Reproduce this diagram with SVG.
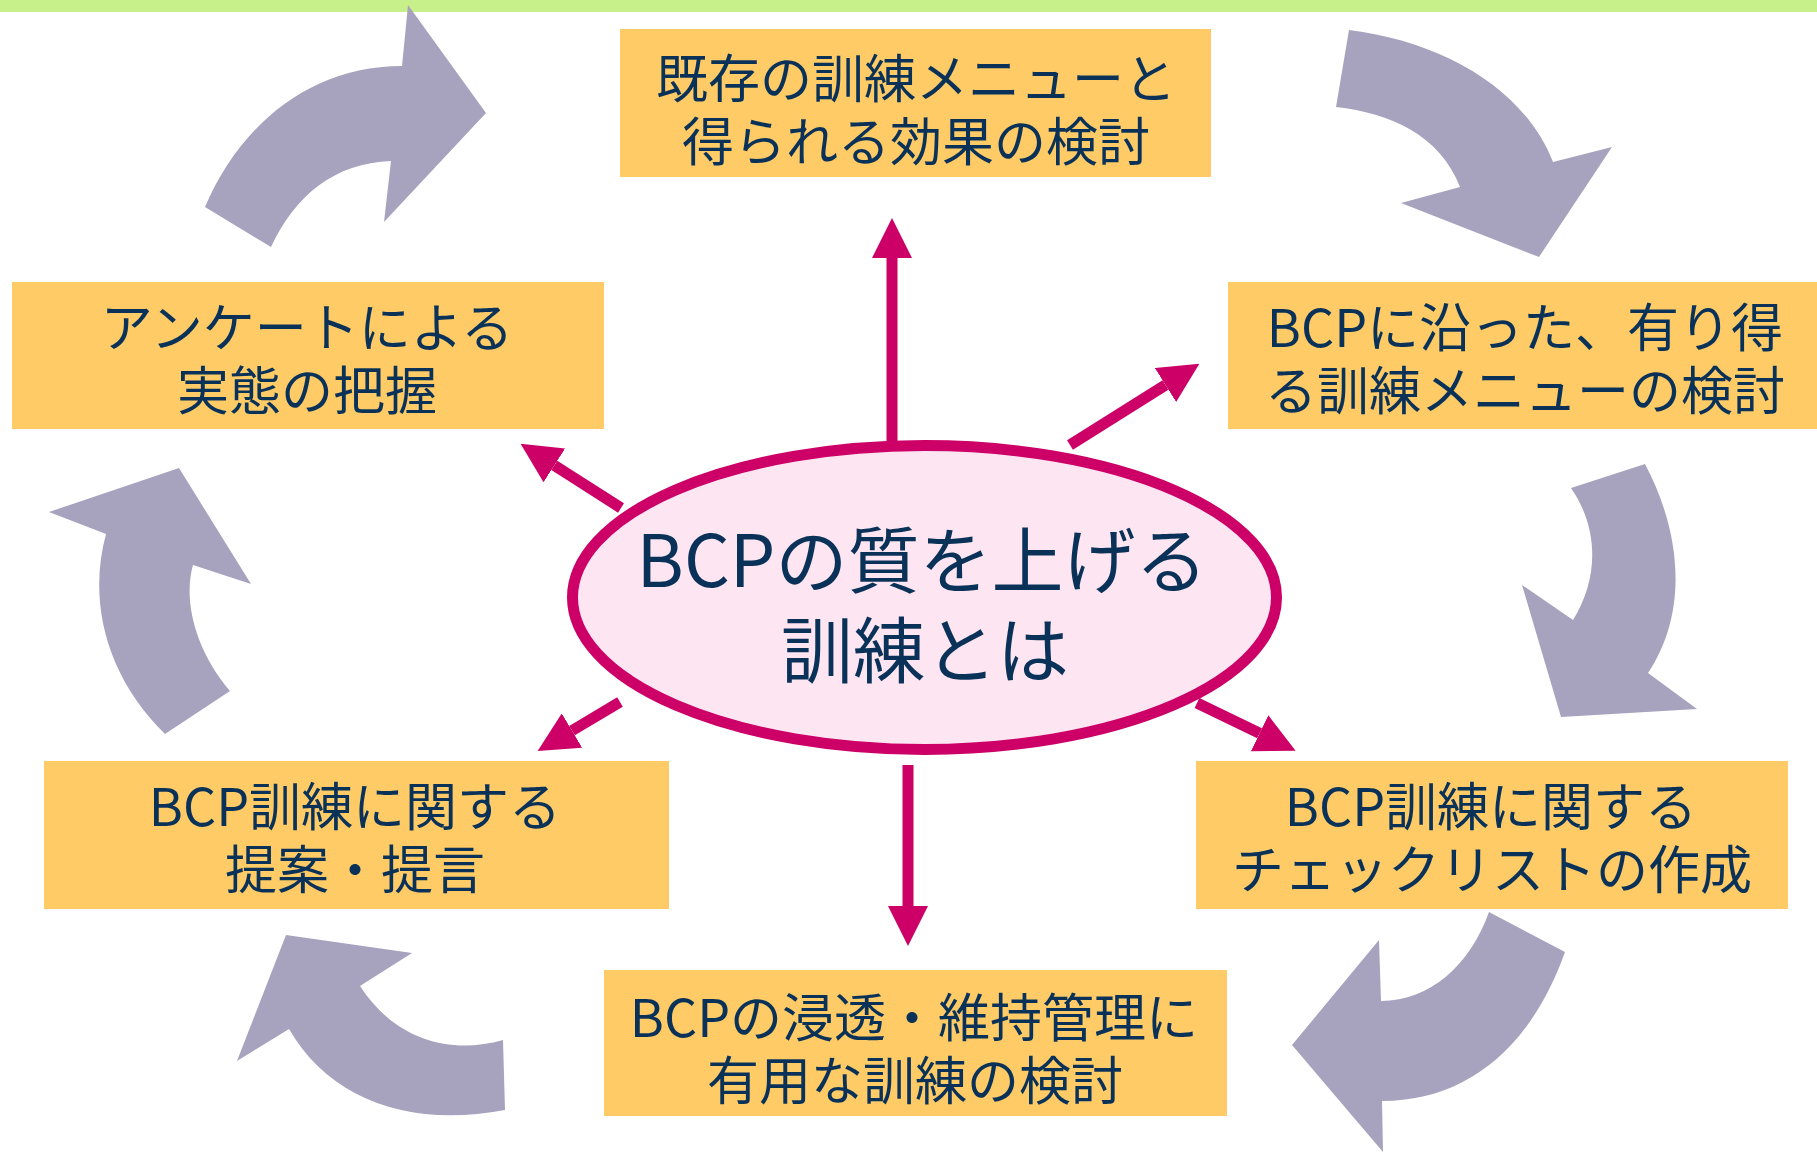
<svg xmlns="http://www.w3.org/2000/svg" width="1817" height="1157" viewBox="0 0 1817 1157">
<style>
.box{fill:#FECB66}
.cycle{fill:#A7A3BF}
.t{font-family:"Noto Sans CJK JP","Noto Sans",sans-serif;font-size:52px;fill:#0A3259;text-anchor:middle}
.tc{font-family:"Noto Sans CJK JP","Noto Sans",sans-serif;font-size:72px;fill:#0A3259;text-anchor:middle}
.con{stroke:#CC0066;stroke-width:11;fill:none;marker-end:url(#head)}
</style>
<defs>
<marker id="head" markerUnits="userSpaceOnUse" markerWidth="40" markerHeight="40" viewBox="0 0 36 36" refX="0" refY="18" orient="auto">
<path d="M0,0 L36,18 L0,36 Z" fill="#CC0066"/>
</marker>
</defs>
<rect x="0" y="0" width="1817" height="1157" fill="#FFFFFF"/>
<rect x="0" y="0" width="1817" height="12" fill="#C8F08A"/>

<g id="cycle-arrows">
<path class="cycle" d="M205,207 C240,125 310,66 402,66 L408,5 L486,113 L384,222 L391,161 C335,163 295,195 271,247 Z"/>
<path class="cycle" d="M1349,30 C1445,42 1525,90 1553,162 L1612,147 L1539,257 L1401,203 L1460,187 C1440,135 1390,113 1336,107 Z"/>
<path class="cycle" d="M1645,464 C1680,530 1690,610 1648,673 L1697,709 L1561,717 L1522,585 L1573,620 C1598,580 1600,530 1571,488 Z"/>
<path class="cycle" d="M1489,912 L1565,952 C1530,1050 1465,1101 1382,1101 L1383,1152 L1292,1045 L1379,940 L1381,1001 C1430,1001 1470,965 1489,912 Z"/>
<path class="cycle" d="M286,935 L412,953 L360,986 C395,1040 450,1055 503,1040 L505,1110 C410,1128 330,1100 289,1029 L237,1061 Z"/>
<path class="cycle" d="M106,534 L49,512 L179,468 L251,584 L193,565 C183,600 195,650 230,691 L165,734 C105,675 88,600 106,534 Z"/>
</g>

<g id="connectors">
<line class="con" x1="892" y1="442" x2="892" y2="258"/>
<line class="con" x1="1070" y1="445" x2="1165.5" y2="385"/>
<line class="con" x1="621" y1="508" x2="554.3" y2="465.4"/>
<line class="con" x1="620" y1="702" x2="572" y2="730.6"/>
<line class="con" x1="1197" y1="703" x2="1259.6" y2="733.3"/>
<line class="con" x1="908" y1="765" x2="908" y2="906"/>
</g>

<g id="center">
<ellipse cx="924.5" cy="597.5" rx="352" ry="152" fill="#FDE6F2" stroke="#CC0066" stroke-width="11"/>
<text class="tc"><tspan x="922" y="587">BCPの質を上げる</tspan><tspan x="925" y="677">訓練とは</tspan></text>
</g>

<g id="node-top">
<rect class="box" x="620" y="29" width="591" height="148"/>
<text class="t"><tspan x="916" y="98">既存の訓練メニューと</tspan><tspan x="916" y="161">得られる効果の検討</tspan></text>
</g>

<g id="node-right">
<rect class="box" x="1228" y="282" width="600" height="147"/>
<text class="t"><tspan x="1525" y="347">BCPに沿った、有り得</tspan><tspan x="1525" y="410">る訓練メニューの検討</tspan></text>
</g>

<g id="node-bottom-right">
<rect class="box" x="1196" y="761" width="592" height="148"/>
<text class="t"><tspan x="1491" y="826">BCP訓練に関する</tspan><tspan x="1492" y="889">チェックリストの作成</tspan></text>
</g>

<g id="node-bottom">
<rect class="box" x="604" y="970" width="623" height="146"/>
<text class="t"><tspan x="914" y="1037">BCPの浸透・維持管理に</tspan><tspan x="915" y="1100">有用な訓練の検討</tspan></text>
</g>

<g id="node-bottom-left">
<rect class="box" x="44" y="761" width="625" height="148"/>
<text class="t"><tspan x="355" y="826">BCP訓練に関する</tspan><tspan x="355" y="889">提案・提言</tspan></text>
</g>

<g id="node-left">
<rect class="box" x="12" y="282" width="592" height="147"/>
<text class="t"><tspan x="307" y="347">アンケートによる</tspan><tspan x="307" y="410">実態の把握</tspan></text>
</g>
</svg>
